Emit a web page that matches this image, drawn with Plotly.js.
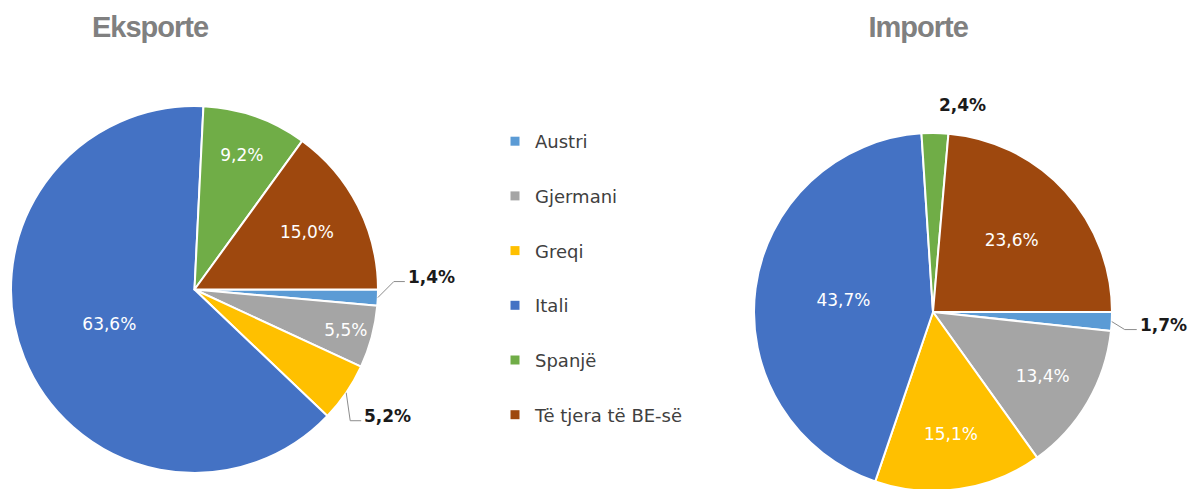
<!DOCTYPE html>
<html><head><meta charset="utf-8">
<script src="https://cdn.plot.ly/plotly-3.0.1.min.js"></script>
<style>
html,body{margin:0;padding:0;overflow:hidden;background:#fff}
#chart{width:1192px;height:492px}
g.annotation[data-index="0"] text, g.annotation[data-index="1"] text{letter-spacing:-1px}
</style>
</head><body><div id="chart"></div>
<script>
// ---- data ----
const categories = ['Austri', 'Gjermani', 'Greqi', 'Itali', 'Spanjë', 'Të tjera të BE-së'];
const exportValues = [1.4, 5.5, 5.2, 63.6, 9.2, 15.0];
const importValues = [1.7, 13.4, 15.1, 43.7, 2.4, 23.6];
const chartTitles = ['Eksporte', 'Importe'];

// ---- style ----
const colors = ['#5B9BD5', '#A5A5A5', '#FFC000', '#4472C4', '#70AD47', '#9E480E'];
const W = 1192, H = 492;
const pies = [
  {values: exportValues, cx: 194.5, cy: 289.5, r: 183.5, title: chartTitles[0], titleX: 150,
   outside: {0: {dx: 16, dy: -16, h: 11}, 2: {dx: 4, dy: 28, h: 11}}},
  {values: importValues, cx: 933, cy: 312, r: 179, title: chartTitles[1], titleX: 918,
   outside: {0: {dx: 13, dy: 8, h: 12}, 4: {dx: 0, dy: 0, h: 0, tx: 28, ty: -28, noline: true}}}
];
const fmt = v => v.toFixed(1).replace('.', ',') + '%';
const px = x => x / W, py = y => 1 - y / H;

const data = [];
const annotations = [];
const shapes = [];

pies.forEach(p => {
  data.push({
    type: 'pie', values: p.values, labels: categories, sort: false,
    direction: 'clockwise', rotation: 90,
    domain: {x: [px(p.cx - p.r), px(p.cx + p.r)], y: [py(p.cy + p.r), py(p.cy - p.r)]},
    marker: {colors: colors, line: {color: '#ffffff', width: 2}},
    text: p.values.map(fmt), textinfo: 'text',
    textposition: p.values.map((v, i) => p.outside[i] ? 'none' : 'inside'),
    insidetextorientation: 'horizontal',
    insidetextfont: {family: 'DejaVu Sans', size: 17, color: '#ffffff'},
    showlegend: false, hoverinfo: 'label+text'
  });
  annotations.push({
    xref: 'paper', yref: 'paper', x: px(p.titleX), y: py(27), xanchor: 'center', yanchor: 'middle',
    text: p.title, showarrow: false,
    font: {family: 'Liberation Sans', size: 29, weight: 'bold', color: '#808080'}
  });
});

pies.forEach(p => {
  const total = p.values.reduce((a, b) => a + b, 0);
  let cum = 0;
  p.values.forEach((v, i) => {
    const mid = (90 + (cum + v / 2) / total * 360) * Math.PI / 180;
    cum += v;
    const o = p.outside[i];
    if (!o) return;
    const ax = p.cx + p.r * Math.sin(mid), ay = p.cy - p.r * Math.cos(mid);
    let tx, ty, anchor = 'left';
    if (o.noline) {
      tx = ax + o.tx; ty = ay + o.ty; anchor = 'center';
    } else {
      const bx = ax + o.dx, by = ay + o.dy, ex = bx + o.h;
      shapes.push({type: 'path', xref: 'paper', yref: 'paper',
        path: `M${px(ax)},${py(ay)} L${px(bx)},${py(by)} L${px(ex)},${py(by)}`,
        line: {color: '#8c8c8c', width: 1}});
      tx = ex + 1; ty = by - 5;
    }
    annotations.push({
      xref: 'paper', yref: 'paper', x: px(tx), y: py(ty), xanchor: anchor, yanchor: 'middle',
      text: fmt(v), showarrow: false,
      font: {family: 'DejaVu Sans', size: 17, weight: 'bold', color: '#1a1a1a'}
    });
  });
});

// legend entries
categories.forEach((c, i) => {
  data.push({type: 'scatter', x: [null], y: [null], mode: 'markers', name: c,
    legendgroup: 'g' + i, showlegend: true, hoverinfo: 'skip',
    marker: {symbol: 'square', size: 9, color: colors[i]}});
});

const layout = {
  width: W, height: H, margin: {l: 0, r: 0, t: 0, b: 0},
  paper_bgcolor: '#ffffff', plot_bgcolor: 'rgba(0,0,0,0)',
  xaxis: {visible: false}, yaxis: {visible: false},
  showlegend: true,
  legend: {x: px(495), xanchor: 'left', y: py(123), yanchor: 'top',
    traceorder: 'grouped', tracegroupgap: 28.3, bgcolor: 'rgba(0,0,0,0)',
    font: {family: 'DejaVu Sans', size: 18, color: '#404040'}},
  annotations: annotations, shapes: shapes
};
Plotly.newPlot('chart', data, layout, {displayModeBar: false, staticPlot: true});
</script>
</body></html>
